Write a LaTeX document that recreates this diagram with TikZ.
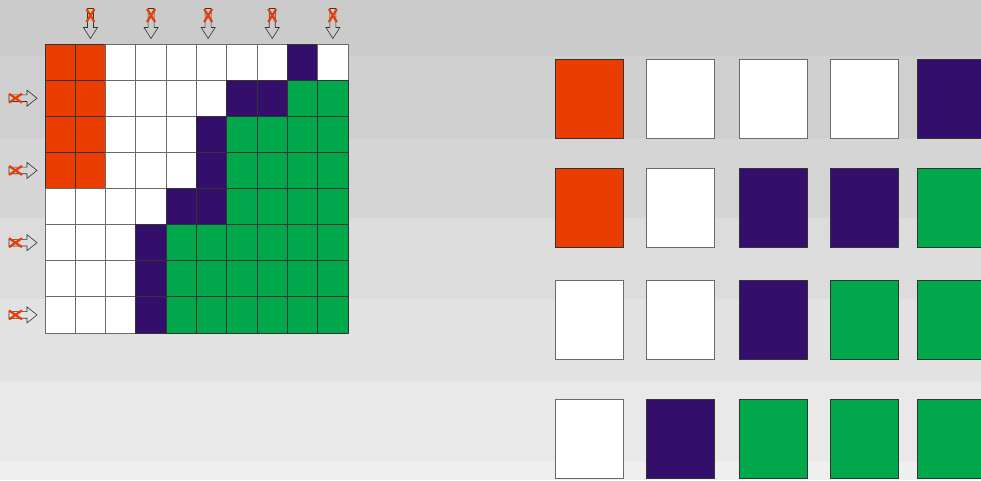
\documentclass[tikz,border=0pt]{standalone}
\definecolor{cO}{HTML}{EA3D00}
\definecolor{cP}{HTML}{330E6B}
\definecolor{cG}{HTML}{00A84B}
\definecolor{cW}{HTML}{FFFFFF}
\definecolor{bg1}{HTML}{CBCBCB}
\definecolor{bg2}{HTML}{CFCFCF}
\definecolor{bg3}{HTML}{D5D5D5}
\definecolor{bg4}{HTML}{DCDCDC}
\definecolor{bg5}{HTML}{E2E2E2}
\definecolor{bg6}{HTML}{E9E9E9}
\definecolor{bg7}{HTML}{EFEFEF}
\definecolor{edgeD}{HTML}{333333}
\definecolor{edgeL}{HTML}{6A6A6A}
\tikzset{
  cell/.style={rectangle, inner sep=0pt, outer sep=0pt, line width=0.9pt, anchor=north west},
  cellO/.style={fill=cO, draw=edgeD},
  cellP/.style={fill=cP, draw=edgeD},
  cellG/.style={fill=cG, draw=edgeD},
  cellW/.style={fill=cW, draw=edgeL},
  gridcell/.style={cell, minimum width=30.3pt, minimum height=36.1pt},
  bigcell/.style={cell, minimum width=68pt, minimum height=79pt},
  arrline/.style={draw=edgeD, line width=0.6pt, line join=miter},
  crossline/.style={draw=cO, line width=2.2pt},
  downarr/.pic={
    \draw[arrline] (-3,-30) -- (-3,-11) -- (-7,-11) -- (0,0) -- (7,-11) -- (3,-11) -- (3,-30) -- cycle;
    \draw[crossline] (-4,-29.5) -- (4,-16.5) (4,-29.5) -- (-4,-16.5);
  },
  rightarr/.pic={
    \draw[arrline] (-28,-3.3) -- (-10,-3.3) -- (-10,-8) -- (0,0) -- (-10,8) -- (-10,3.3) -- (-28,3.3) -- cycle;
    \draw[crossline] (-28,-4.5) -- (-15,4.5) (-28,4.5) -- (-15,-4.5);
  }
}
\begin{document}
\begin{tikzpicture}[x=1pt,y=-1pt]
\clip (0,0) rectangle (981,480);
% background bands
\fill[bg1] (0,0) rectangle (981,56);
\fill[bg2] (0,56) rectangle (981,138);
\fill[bg3] (0,138) rectangle (981,218);
\fill[bg4] (0,218) rectangle (981,299);
\fill[bg5] (0,299) rectangle (981,381);
\fill[bg6] (0,381) rectangle (981,462);
\fill[bg7] (0,462) rectangle (981,480);
% left grid
\foreach \row [count=\i from 0] in {
  {O,O,W,W,W,W,W,W,P,W},
  {O,O,W,W,W,W,P,P,G,G},
  {O,O,W,W,W,P,G,G,G,G},
  {O,O,W,W,W,P,G,G,G,G},
  {W,W,W,W,P,P,G,G,G,G},
  {W,W,W,P,G,G,G,G,G,G},
  {W,W,W,P,G,G,G,G,G,G},
  {W,W,W,P,G,G,G,G,G,G}} {
  \foreach \c [count=\j from 0] in \row {
    \node[gridcell, cell\c] (g-\i-\j) at ({45+30.3*\j},{44+36.125*\i}) {};
  }
}
% top arrows
\pic at ([yshift=5.5pt]g-0-1.north) {downarr};
\pic at ([yshift=5.5pt]g-0-3.north) {downarr};
\pic at ([yshift=5.5pt,xshift=-3.5pt]g-0-5.north) {downarr};
\pic at ([yshift=5.5pt]g-0-7.north) {downarr};
\pic at ([yshift=5.5pt]g-0-9.north) {downarr};
% left arrows
\pic at ([xshift=-8pt]g-1-0.west) {rightarr};
\pic at ([xshift=-8pt]g-3-0.west) {rightarr};
\pic at ([xshift=-8pt]g-5-0.west) {rightarr};
\pic at ([xshift=-8pt]g-7-0.west) {rightarr};
% right blocks
\def\xs{{555.5,646,739,830,917}}
\def\ys{{59,168,280,399}}
\foreach \row [count=\i from 0] in {
  {O,W,W,W,P},
  {O,W,P,P,G},
  {W,W,P,G,G},
  {W,P,G,G,G}} {
  \foreach \c [count=\j from 0] in \row {
    \pgfmathsetmacro{\bx}{\xs[\j]}
    \pgfmathsetmacro{\by}{\ys[\i]}
    \node[bigcell, cell\c] (b-\i-\j) at (\bx,\by) {};
  }
}
\end{tikzpicture}
\end{document}
